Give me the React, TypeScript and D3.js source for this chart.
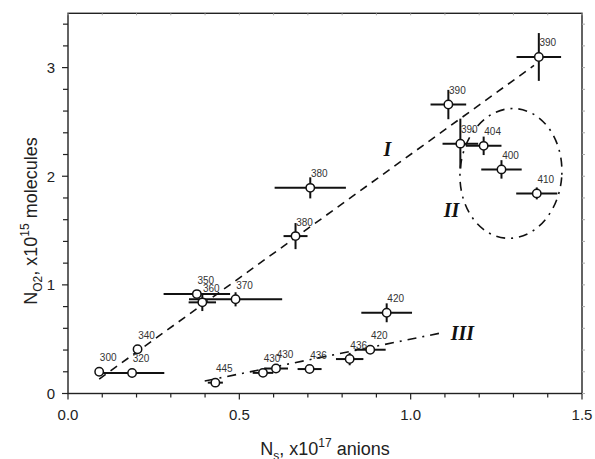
import React from "react";
import * as d3 from "d3";

const pointLabels = ["300","320","340","350","360","370","380","380","390","390","390","404","400","410","445","430","430","436","436","420","420"];
const xValues = [0.091,0.187,0.203,0.376,0.392,0.489,0.707,0.664,1.374,1.110,1.145,1.213,1.265,1.368,0.430,0.569,0.607,0.705,0.822,0.882,0.930];
const yValues = [0.200,0.189,0.407,0.915,0.839,0.867,1.893,1.449,3.098,2.660,2.300,2.280,2.063,1.842,0.100,0.190,0.230,0.225,0.317,0.403,0.743];
const xErrors = [0,0.094,0.012,0.097,0.040,0.136,0.104,0.035,0.065,0.052,0.052,0.052,0.059,0.060,0.022,0.030,0.035,0.035,0.040,0.045,0.074];
const yErrors = [0,0,0.030,0,0.080,0.065,0.097,0.120,0.220,0.135,0.230,0.085,0.085,0.055,0,0,0,0,0.057,0,0.087];

const lineIX = [0.091, 1.36];
const lineIY = [0.133, 3.02];
const lineIIIX = [0.399, 1.093];
const lineIIIY = [0.115, 0.56];

const ellipseCenter = [1.2926, 2.026];
const ellipseRadii = [0.1485, 0.598];

const romanLabels = ["I", "II", "III"];
const romanX = [0.932, 1.119, 1.151];
const romanY = [2.25, 1.688, 0.559];

const xTickLabels = ["0.0", "0.5", "1.0", "1.5"];
const yTickLabels = ["0", "1", "2", "3"];

const W = 595, H = 459;
const left = 68, right = 582, top = 13.3, bottom = 393.5;

export default function App() {
  const x = d3.scaleLinear().domain([0, 1.5]).range([left, right]);
  const y = d3.scaleLinear().domain([0, 3.5]).range([bottom, top]);
  const line = d3.line<[number, number]>().x(d => x(d[0])).y(d => y(d[1]));

  const xMinor = d3.range(0, 16).map(i => i / 10);
  const yMinor = d3.range(0, 18).map(i => +(i * 0.2).toFixed(1));
  const xMajor = xTickLabels.map(Number);
  const yMajor = yTickLabels.map(Number);

  const ecx = x(ellipseCenter[0]);
  const ecy = y(ellipseCenter[1]);
  const erx = x(ellipseCenter[0] + ellipseRadii[0]) - ecx;
  const ery = ecy - y(ellipseCenter[1] + ellipseRadii[1]);

  const font = "'Liberation Sans', Arial, sans-serif";

  return (
    <svg width={W} height={H} style={{ position: "absolute", left: 0, top: 0, background: "#fff" }} fontFamily={font}>
      <rect x={0} y={0} width={W} height={H} fill="#fff" />
      {/* fit lines */}
      <path d={line(lineIX.map((v, i) => [v, lineIY[i]]) as [number, number][]) || ""} fill="none" stroke="#111" strokeWidth={1.6} strokeDasharray="8,6" />
      <path d={line(lineIIIX.map((v, i) => [v, lineIIIY[i]]) as [number, number][]) || ""} fill="none" stroke="#111" strokeWidth={1.6} strokeDasharray="9,6,2,6" />
      <ellipse cx={ecx} cy={ecy} rx={erx} ry={ery} fill="none" stroke="#111" strokeWidth={1.6} strokeDasharray="9,6,2,6" transform={`rotate(4.4 ${ecx} ${ecy})`} />

      {/* error bars */}
      {xValues.map((xv, i) => (
        <g key={"e" + i} stroke="#111" strokeWidth={2}>
          {xErrors[i] > 0 && <line x1={x(xv - xErrors[i])} x2={x(xv + xErrors[i])} y1={y(yValues[i])} y2={y(yValues[i])} />}
          {yErrors[i] > 0 && <line x1={x(xv)} x2={x(xv)} y1={y(yValues[i] - yErrors[i])} y2={y(yValues[i] + yErrors[i])} />}
        </g>
      ))}
      {/* points */}
      {xValues.map((xv, i) => (
        <circle key={"c" + i} cx={x(xv)} cy={y(yValues[i])} r={4.2} fill="#fff" stroke="#111" strokeWidth={1.5} />
      ))}
      {xValues.map((xv, i) => (
        <text key={"t" + i} x={x(xv) + 9} y={y(yValues[i]) - 14} fontSize={10} fill="#333" textAnchor="middle" dominantBaseline="central">{pointLabels[i]}</text>
      ))}

      {romanLabels.map((r, i) => (
        <text key={"r" + i} x={x(romanX[i])} y={y(romanY[i])} fontSize={20} fontStyle="italic" fontWeight="bold" fontFamily="'Liberation Serif', 'Times New Roman', serif" textAnchor="middle" dominantBaseline="central" fill="#111">{r}</text>
      ))}

      {/* axes frame */}
      <rect x={left} y={top} width={right - left} height={bottom - top} fill="none" stroke="#222" strokeWidth={1.4} />
      {/* bottom ticks */}
      {xMinor.map((v, i) => (
        <line key={"bx" + i} x1={x(v)} x2={x(v)} y1={bottom} y2={bottom + (xMajor.includes(v) ? 6 : 4)} stroke="#222" strokeWidth={1.2} />
      ))}
      {/* top ticks */}
      {xMinor.map((v, i) => (
        <line key={"tx" + i} x1={x(v)} x2={x(v)} y1={top} y2={top + 2} stroke="#aaa" strokeWidth={1} />
      ))}
      {/* left ticks */}
      {yMinor.map((v, i) => (
        <line key={"ly" + i} x1={left} x2={left - (yMajor.includes(v) ? 6 : 5)} y1={y(v)} y2={y(v)} stroke="#222" strokeWidth={1.2} />
      ))}
      {/* right ticks */}
      {yMinor.map((v, i) => (
        <line key={"ry" + i} x1={right} x2={right + 3} y1={y(v)} y2={y(v)} stroke="#aaa" strokeWidth={1} />
      ))}
      {xMajor.map((v, i) => (
        <text key={"xl" + i} x={x(v)} y={420} fontSize={15} textAnchor="middle" fill="#222">{xTickLabels[i]}</text>
      ))}
      {yMajor.map((v, i) => (
        <text key={"yl" + i} x={55} y={y(v)} fontSize={15} textAnchor="end" dominantBaseline="central" fill="#222">{yTickLabels[i]}</text>
      ))}

      {/* axis titles */}
      <text x={(left + right) / 2} y={455} fontSize={18} textAnchor="middle" fill="#222">
        N<tspan fontSize={12} dy={5}>s</tspan><tspan dy={-5}>, x10</tspan><tspan fontSize={12} dy={-8}>17</tspan><tspan dy={8}> anions</tspan>
      </text>
      <text transform={`translate(37, 221) rotate(-90)`} fontSize={18} textAnchor="middle" fill="#222">
        N<tspan fontSize={12} dy={5}>O2</tspan><tspan dy={-5}>, x10</tspan><tspan fontSize={12} dy={-8}>15</tspan><tspan dy={8}> molecules</tspan>
      </text>
    </svg>
  );
}
